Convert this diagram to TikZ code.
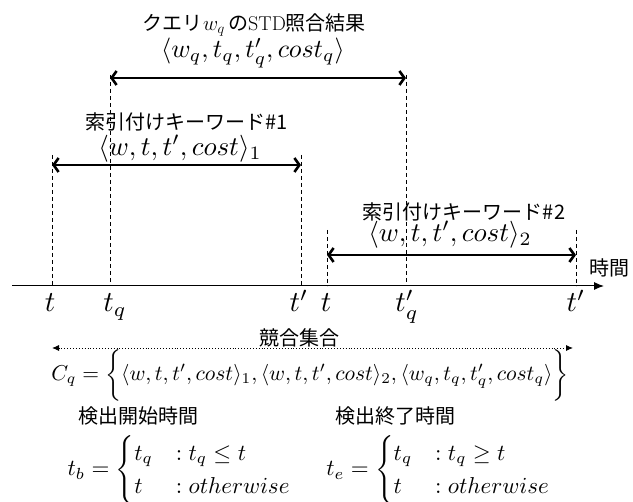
\documentclass[tikz,border=0pt]{standalone}
\usepackage{amsmath}
\usepackage{fontspec}
\newfontfamily\jp{Noto Sans CJK JP}
\usetikzlibrary{arrows.meta}
\tikzset{
  jptext/.style={inner sep=0pt, font=\jp\fontsize{20}{24}\selectfont},
  mathbig/.style={inner sep=0pt, scale=2.7},
  axislbl/.style={inner sep=0pt, scale=2.9, anchor=base},
  guide/.style={dashed, line width=0.8pt, dash pattern=on 4pt off 3pt},
  span/.style={line width=2.6pt, {Straight Barb[length=5pt,width=14pt]}-{Straight Barb[length=5pt,width=14pt]}},
  timeaxis/.style={line width=1pt, -{Latex[length=10pt,width=8pt]}},
  setarrow/.style={dotted, line width=0.9pt, {Latex[length=7pt,width=6pt]}-{Latex[length=7pt,width=6pt]}}
}
\begin{document}
\begin{tikzpicture}[x=1pt,y=-1pt]
\useasboundingbox (0,0) rectangle (633,502);

% coordinates for guides
\coordinate (q1top) at (110,75);  \coordinate (q1bot) at (110,286);
\coordinate (q2top) at (406,75);  \coordinate (q2bot) at (406,286);
\coordinate (a1top) at (52,155);  \coordinate (a1bot) at (52,286);
\coordinate (a2top) at (301,155); \coordinate (a2bot) at (301,286);
\coordinate (b1top) at (327,230); \coordinate (b1bot) at (327,286);
\coordinate (b2top) at (576,230); \coordinate (b2bot) at (576,286);

\draw[guide] (q1top) -- (q1bot);
\draw[guide] (q2top) -- (q2bot);
\draw[guide] (a1top) -- (a1bot);
\draw[guide] (a2top) -- (a2bot);
\draw[guide] (b1top) -- (b1bot);
\draw[guide] (b2top) -- (b2bot);

% spans
\coordinate (qs) at (110,78); \coordinate (qe) at (406,78);
\coordinate (as) at (52,165); \coordinate (ae) at (301,165);
\coordinate (bs) at (327,255); \coordinate (be) at (576,255);
\draw[span] (qs) -- (qe);
\draw[span] (as) -- (ae);
\draw[span] (bs) -- (be);

% axis
\coordinate (ax0) at (12,286); \coordinate (ax1) at (604,286);
\draw[timeaxis] (ax0) -- (ax1);
\node[jptext] (jikan) at (609,268) {時間};

% axis labels
\node[axislbl] (l1) at (50,312) {$t$};
\node[axislbl] (l2) at (115,312) {$t_q$};
\node[axislbl] (l3) at (299,312) {$t'$};
\node[axislbl] (l4) at (326,312) {$t$};
\node[axislbl] (l5) at (407,312) {$t'_q$};
\node[axislbl] (l6) at (576,312) {$t'$};

% titles
\node[jptext] (qtitle) at (254,25) {クエリ\kern1pt{\fontsize{22}{24}\selectfont$w_q$}\,の{\rmfamily STD}照合結果};
\node[inner sep=0pt, scale=2.6] (qtuple) at (253,53) {$\langle w_q,t_q,t'_q,cost_q\rangle$};
\node[jptext] (k1title) at (187,122) {索引付けキーワード\#1};
\node[mathbig] (k1tuple) at (180,149) {$\langle w,t,t',cost\rangle_1$};
\node[jptext] (k2title) at (464,212) {索引付けキーワード\#2};
\node[mathbig] (k2tuple) at (450,235) {$\langle w,t,t',cost\rangle_2$};

% conflict set
\node[jptext] (kyogo) at (299,338) {競合集合};
\coordinate (cs) at (52,348); \coordinate (ce) at (573,348);
\draw[setarrow] (cs) -- (ce);
\node[inner sep=0pt, scale=2.15] (cq) at (310,375)
  {$C_q=\bigg\{\langle w,t,t',cost\rangle_1,\langle w,t,t',cost\rangle_2,\langle w_q,t_q,t'_q,cost_q\rangle\bigg\}$};

% detection times
\node[jptext] (kaishi) at (138,416) {検出開始時間};
\node[jptext] (shuryo) at (395,416) {検出終了時間};
\node[inner sep=0pt, scale=2.3] (tb) at (180,470)
  {$t_b=\begin{cases} t_q & :t_q\leq t\\ t & :otherwise\end{cases}$};
\node[inner sep=0pt, scale=2.3] (te) at (439,470)
  {$t_e=\begin{cases} t_q & :t_q\geq t\\ t & :otherwise\end{cases}$};
\end{tikzpicture}
\end{document}
